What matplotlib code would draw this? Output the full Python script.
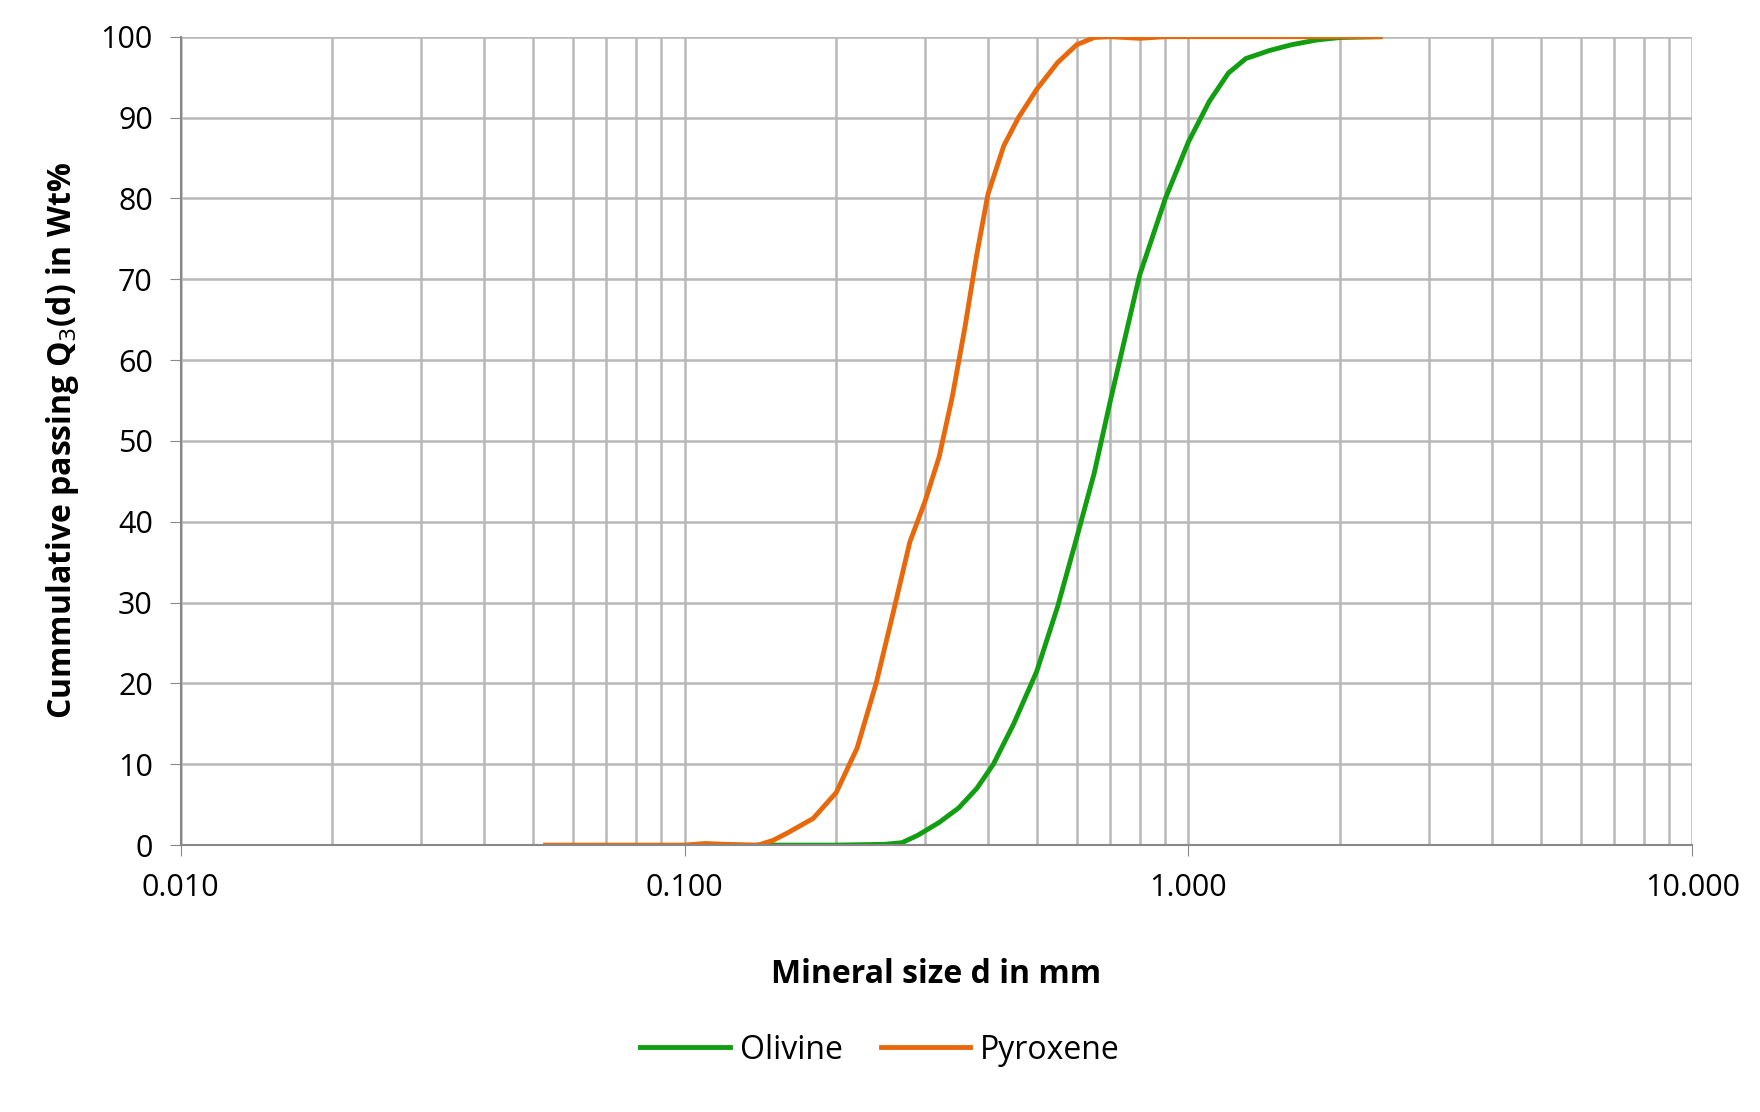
import matplotlib
matplotlib.use("Agg")
import matplotlib.pyplot as plt
from matplotlib.ticker import FixedLocator, LogLocator, NullFormatter

plt.rcParams['font.family'] = ['Open Sans', 'DejaVu Sans']

oli_x = [0.14, 0.2, 0.25, 0.27, 0.29, 0.32, 0.35, 0.38, 0.41, 0.45, 0.5, 0.55, 0.6, 0.65, 0.7, 0.75, 0.8, 0.9, 1.0, 1.1, 1.2, 1.3, 1.45, 1.6, 1.8, 2.0, 2.4]
oli_y = [0, 0, 0.1, 0.3, 1.2, 2.8, 4.6, 7.0, 10.0, 15.0, 21.5, 29.5, 38.0, 46.0, 55.0, 63.0, 70.5, 80.0, 87.0, 92.0, 95.5, 97.3, 98.3, 99.0, 99.6, 99.9, 100]
pyr_x = [0.053, 0.08, 0.1, 0.11, 0.12, 0.14, 0.15, 0.16, 0.18, 0.2, 0.22, 0.24, 0.26, 0.28, 0.3, 0.32, 0.34, 0.36, 0.38, 0.4, 0.43, 0.46, 0.5, 0.55, 0.6, 0.65, 0.7, 0.8, 0.9, 1.0, 1.5, 2.4]
pyr_y = [0, 0, 0, 0.2, 0.1, 0, 0.6, 1.5, 3.3, 6.5, 12.0, 20.0, 29.0, 37.5, 42.5, 48.0, 55.5, 64.0, 73.0, 80.5, 86.5, 90.0, 93.5, 96.8, 99.0, 99.9, 100, 99.8, 100, 100, 100, 100]

fig = plt.figure(figsize=(17.6, 11.12), dpi=100)
ax = fig.add_axes([0.1026, 0.24, 0.859, 0.727])
ax.plot(oli_x, oli_y, color='#119e11', lw=3.5, label='Olivine')
ax.plot(pyr_x, pyr_y, color='#e8690c', lw=3.5, label='Pyroxene')
ax.set_xscale('log')
ax.set_xlim(0.01, 10)
ax.set_ylim(0, 100)
ax.xaxis.set_major_locator(FixedLocator([0.01, 0.1, 1, 10]))
ax.set_xticklabels(['0.010', '0.100', '1.000', '10.000'])
ax.xaxis.set_minor_locator(LogLocator(base=10, subs=range(2, 10)))
ax.xaxis.set_minor_formatter(NullFormatter())
ax.set_yticks(range(0, 101, 10))
ax.grid(True, which='both', color='#b8b8b8', lw=1.8)
ax.set_axisbelow(True)
for s in ['top', 'right']:
    ax.spines[s].set_visible(False)
for s in ['left', 'bottom']:
    ax.spines[s].set_color('#888888')
    ax.spines[s].set_linewidth(1.5)
ax.tick_params(axis='both', which='major', labelsize=22, length=8, color='#888888', pad=12)
ax.tick_params(axis='x', which='minor', length=0)
ax.tick_params(axis='y', length=8, direction='out')
ax.set_xlabel('Mineral size d in mm', fontsize=23, fontweight='bold', labelpad=40)
ax.set_ylabel('Cummulative passing Q$_3$(d) in Wt%', fontsize=23, fontweight='bold', labelpad=14)
fig.legend(loc='lower center', bbox_to_anchor=(0.5, 0.015), ncol=2, frameon=False,
           fontsize=23, handlelength=2.8, columnspacing=1.2, handletextpad=0.3)
fig.savefig('out.png', dpi=100)
